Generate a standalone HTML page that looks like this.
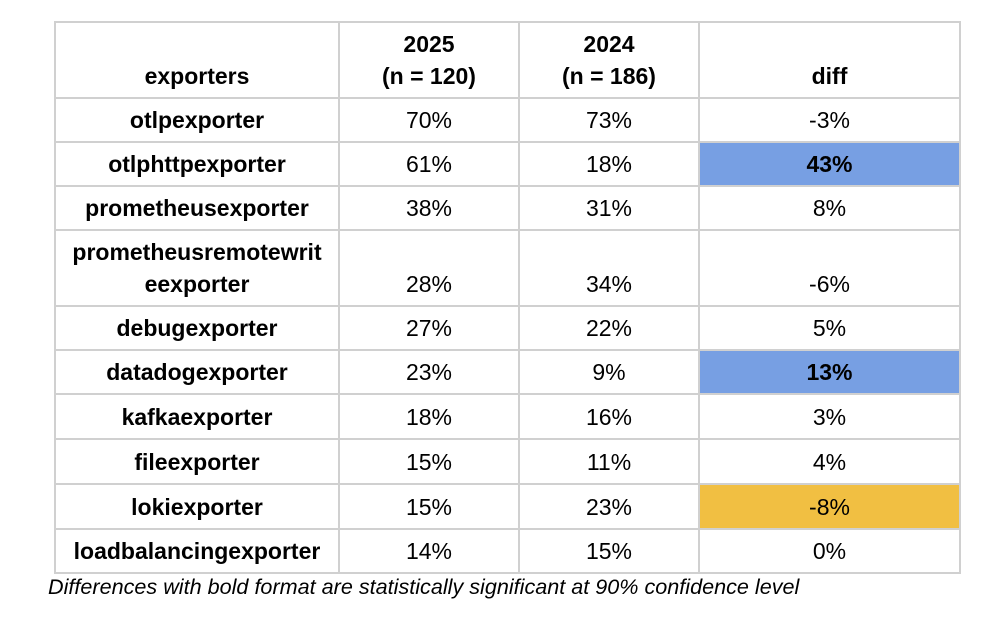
<!DOCTYPE html>
<html><head><meta charset="utf-8"><style>
body{margin:0;width:1000px;height:620px;background:#fff;position:relative;font-family:"Liberation Sans",Arial,sans-serif;color:#000;}
table{position:absolute;left:54px;top:21px;border-collapse:collapse;table-layout:fixed;width:905px;}
td{border:2px solid #d0d0d0;text-align:center;vertical-align:bottom;font-size:23px;line-height:32px;padding:0 0 5px 0;white-space:nowrap;}
td:first-child{font-weight:bold;}
tr.h td{font-weight:bold;}
.b{background:#779fe3;font-weight:bold;}
.y{background:#f1bf42;}
.cap{position:absolute;left:48px;top:575px;font-style:italic;font-size:21.6px;line-height:24px;white-space:nowrap;}
</style></head><body>
<table>
<colgroup><col style="width:284px"><col style="width:180px"><col style="width:180px"><col style="width:261px"></colgroup>
<tr class="h" style="height:76px"><td>exporters</td><td>2025<br>(n = 120)</td><td>2024<br>(n = 186)</td><td>diff</td></tr>
<tr style="height:44px"><td>otlpexporter</td><td>70%</td><td>73%</td><td>-3%</td></tr>
<tr style="height:44px"><td>otlphttpexporter</td><td>61%</td><td>18%</td><td class="b">43%</td></tr>
<tr style="height:44px"><td>prometheusexporter</td><td>38%</td><td>31%</td><td>8%</td></tr>
<tr style="height:76px"><td>prometheusremotewrit<br>eexporter</td><td>28%</td><td>34%</td><td>-6%</td></tr>
<tr style="height:44px"><td>debugexporter</td><td>27%</td><td>22%</td><td>5%</td></tr>
<tr style="height:44px"><td>datadogexporter</td><td>23%</td><td>9%</td><td class="b">13%</td></tr>
<tr style="height:45px"><td>kafkaexporter</td><td>18%</td><td>16%</td><td>3%</td></tr>
<tr style="height:45px"><td>fileexporter</td><td>15%</td><td>11%</td><td>4%</td></tr>
<tr style="height:45px"><td>lokiexporter</td><td>15%</td><td>23%</td><td class="y">-8%</td></tr>
<tr style="height:44px"><td>loadbalancingexporter</td><td>14%</td><td>15%</td><td>0%</td></tr>
</table>
<div class="cap">Differences with bold format are statistically significant at 90% confidence level</div>
</body></html>
